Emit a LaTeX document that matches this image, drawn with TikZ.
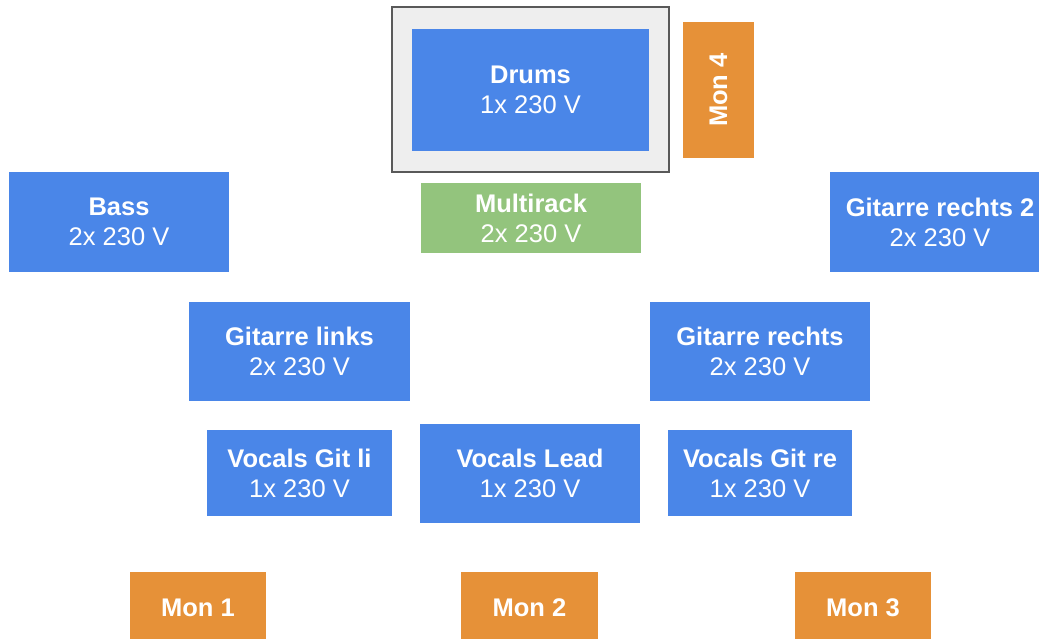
\documentclass[tikz,border=0pt]{standalone}
\usepackage{fontspec}
\setmainfont{Liberation Sans}
\definecolor{boxblue}{HTML}{4A86E8}
\definecolor{monorange}{HTML}{E69138}
\definecolor{rackgreen}{HTML}{93C47D}
\definecolor{framefill}{HTML}{EEEEEE}
\definecolor{frameline}{HTML}{595959}
\begin{document}
\begin{tikzpicture}[x=1pt,y=-1pt,
  base/.style={inner sep=0pt, align=center, text=white, font=\fontsize{25.5}{30}\selectfont},
  bluebox/.style={base, fill=boxblue},
  monbox/.style={base, fill=monorange, font=\fontsize{25.5}{30}\selectfont\bfseries},
  rackbox/.style={base, fill=rackgreen},
  framebox/.style={fill=framefill, draw=frameline, line width=1.2pt, inner sep=0pt}
]
\useasboundingbox (0,0) rectangle (1039,638);
\node[framebox, minimum width=277pt, minimum height=165pt] (frame) at (530.5,89.5) {};
\node[bluebox, minimum width=237pt, minimum height=122pt] (drums) at (530.5,90) {\textbf{Drums}\\1x 230 V};
\node[monbox, minimum width=71pt, minimum height=136pt] (mon4) at (718.5,90) {};
\node[base, rotate=90, font=\fontsize{25.5}{30}\selectfont\bfseries] (mon4label) at (718.5,90) {Mon 4};
\node[rackbox, minimum width=220pt, minimum height=70pt] (multirack) at (531,218) {\textbf{Multirack}\\2x 230 V};
\node[bluebox, minimum width=220pt, minimum height=100pt] (bass) at (119,222) {\textbf{Bass}\\2x 230 V};
\node[bluebox, minimum width=220pt, minimum height=100pt] (gr2) at (940,222) {\textbf{Gitarre rechts 2}\\2x 230 V};
\node[bluebox, minimum width=221pt, minimum height=99pt] (glinks) at (299.5,351.5) {\textbf{Gitarre links}\\2x 230 V};
\node[bluebox, minimum width=220pt, minimum height=99pt] (grechts) at (760,351.5) {\textbf{Gitarre rechts}\\2x 230 V};
\node[bluebox, minimum width=185pt, minimum height=86pt] (vgli) at (299.5,473) {\textbf{Vocals Git li}\\1x 230 V};
\node[bluebox, minimum width=220pt, minimum height=99pt] (vlead) at (530,473.5) {\textbf{Vocals Lead}\\1x 230 V};
\node[bluebox, minimum width=184pt, minimum height=86pt] (vgre) at (760,473) {\textbf{Vocals Git re}\\1x 230 V};
\node[monbox, minimum width=136pt, minimum height=72pt] (mon1) at (198,608) {Mon 1};
\node[monbox, minimum width=137pt, minimum height=72pt] (mon2) at (529.5,608) {Mon 2};
\node[monbox, minimum width=136pt, minimum height=72pt] (mon3) at (863,608) {Mon 3};
\end{tikzpicture}
\end{document}
